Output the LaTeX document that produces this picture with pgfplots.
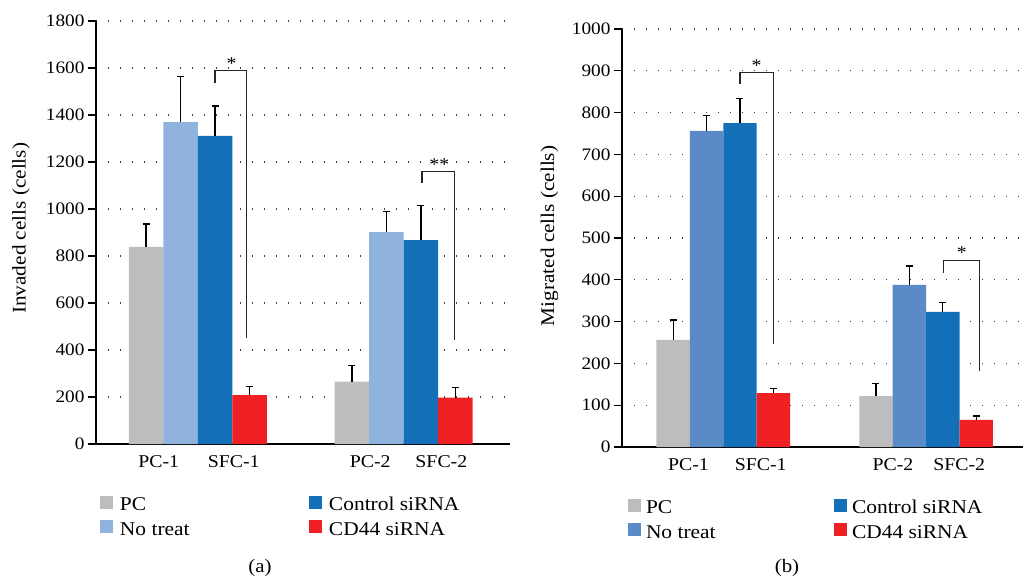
\documentclass[border=0pt]{standalone}
\usepackage{pgfplots}
\pgfplotsset{compat=1.18}
\usepackage{pgfplotstable}
\usepackage{fontspec}
\setmainfont[FakeStretch=1.1]{Liberation Serif}
\definecolor{cgray}{HTML}{BDBDBD}
\definecolor{clight}{HTML}{8FB3DD}
\definecolor{cmed}{HTML}{5A8BC7}
\definecolor{cblue}{HTML}{1370B8}
\definecolor{cred}{HTML}{EE2024}

% left panel (a): x, value, plus-error
\pgfplotstableread{
x y e
1.45 839 97
7.42 265 70
}\aPC
\pgfplotstableread{
x y e
2.45 1370 193
8.42 902 86
}\aNT
\pgfplotstableread{
x y e
3.45 1311 127
9.42 868 146
}\aCS
\pgfplotstableread{
x y e
4.45 208 36
10.42 197 43
}\aCD
% right panel (b)
\pgfplotstableread{
x y e
1.53 256 48
7.60 122 29
}\bPC
\pgfplotstableread{
x y e
2.53 756 37
8.60 388 45
}\bNT
\pgfplotstableread{
x y e
3.53 775 58
9.60 323 23
}\bCS
\pgfplotstableread{
x y e
4.53 129 11
10.60 65 9
}\bCD

\pgfplotsset{
 panel/.style={
  scale only axis,
  axis x line=bottom, axis y line=left,
  axis line style={-, line width=1.2pt, black},
  xmin=0, xmax=12, ymin=0,
  tick align=outside,
  major tick length=8pt,
  ytick style={line width=1.2pt, black},
  xtick style={draw=none},
  ymajorgrids,
  major grid style={dash pattern=on 1.3pt off 10.7pt, line width=1.3pt, black!75},
  /pgf/number format/assume math mode=true,
  /pgf/number format/1000 sep={},
  yticklabel style={font=\fontsize{17.5}{20}\selectfont},
  xticklabel style={font=\fontsize{18}{20}\selectfont},
  ylabel style={font=\fontsize{19.3}{21}\selectfont, anchor=center},
  legend cell align=left,
 },
 errb/.style={error bars/.cd, y dir=plus, y explicit,
   error bar style={line width=1.2pt, black},
   error mark options={black, line width=1.2pt, mark size=3.5pt, rotate=90}},
}

\begin{document}
\begin{tikzpicture}
\useasboundingbox (0pt,0pt) rectangle (1026pt,582pt);

% ---------------- panel (a)
\begin{axis}[panel,
  at={(96pt,138pt)}, anchor=south west,
  width=414pt, height=423pt,
  ymax=1800, ytick={0,200,...,1800},
  xtick={1.82,3.99,7.95,10.01},
  xticklabels={PC-1,SFC-1,PC-2,SFC-2},
  ylabel={Invaded cells (cells)},
  ylabel style={at={(axis description cs:-0.181,0.51)}},
  legend image code/.code={\fill[#1] (0pt,-5pt) rectangle (13pt,8pt); \path (20pt,0pt);},
  legend style={at={(axis description cs:0,0)}, anchor=north west, xshift=4pt, yshift=-51.4pt,
    draw=none, fill=none, legend columns=2, transpose legend, inner sep=0pt, outer sep=0pt,
    nodes={inner sep=0pt}, row sep=7.5pt, column sep=0pt,
    font=\fontsize{19.5}{22}\selectfont},
]
\addplot[ybar, bar width=34.5pt, bar shift=0pt, fill=cgray, draw=none, errb] table[x=x,y=y,y error=e] {\aPC};
\addlegendentry{\makebox[189pt][l]{\strut PC}}
\addplot[ybar, bar width=34.5pt, bar shift=0pt, fill=clight, draw=none, errb] table[x=x,y=y,y error=e] {\aNT};
\addlegendentry{\makebox[189pt][l]{\strut No treat}}
\addplot[ybar, bar width=34.5pt, bar shift=0pt, fill=cblue, draw=none, errb] table[x=x,y=y,y error=e] {\aCS};
\addlegendentry{\strut Control siRNA}
\addplot[ybar, bar width=34.5pt, bar shift=0pt, fill=cred, draw=none, errb] table[x=x,y=y,y error=e] {\aCD};
\addlegendentry{\strut CD44 siRNA}
% significance brackets
\draw[line width=1.2pt, black!85] (axis cs:3.45,1536) -- (axis cs:3.45,1588) -- (axis cs:4.37,1588) -- (axis cs:4.37,452);
\node[anchor=south, font=\fontsize{18}{20}\selectfont, inner sep=1pt] at (axis cs:3.93,1588) {*};
\draw[line width=1.2pt, black!85] (axis cs:9.45,1111) -- (axis cs:9.45,1160) -- (axis cs:10.4,1160) -- (axis cs:10.4,443);
\node[anchor=south, font=\fontsize{18}{20}\selectfont, inner sep=1pt] at (axis cs:9.95,1160) {**};
\end{axis}

% ---------------- panel (b)
\begin{axis}[panel,
  at={(622pt,135pt)}, anchor=south west,
  width=401pt, height=418pt,
  ymax=1000, ytick={0,100,...,1000},
  xtick={1.99,4.15,8.11,10.09},
  xticklabels={PC-1,SFC-1,PC-2,SFC-2},
  ylabel={Migrated cells (cells)},
  ylabel style={at={(axis description cs:-0.181,0.505)}},
  legend image code/.code={\fill[#1] (0pt,-5pt) rectangle (13pt,8pt); \path (18pt,0pt);},
  legend style={at={(axis description cs:0,0)}, anchor=north west, xshift=6pt, yshift=-51.5pt,
    draw=none, fill=none, legend columns=2, transpose legend, inner sep=0pt, outer sep=0pt,
    nodes={inner sep=0pt}, row sep=7.5pt, column sep=0pt,
    font=\fontsize{19.5}{22}\selectfont},
]
\addplot[ybar, bar width=33.4pt, bar shift=0pt, fill=cgray, draw=none, errb] table[x=x,y=y,y error=e] {\bPC};
\addlegendentry{\makebox[188pt][l]{\strut PC}}
\addplot[ybar, bar width=33.4pt, bar shift=0pt, fill=cmed, draw=none, errb] table[x=x,y=y,y error=e] {\bNT};
\addlegendentry{\makebox[188pt][l]{\strut No treat}}
\addplot[ybar, bar width=33.4pt, bar shift=0pt, fill=cblue, draw=none, errb] table[x=x,y=y,y error=e] {\bCS};
\addlegendentry{\strut Control siRNA}
\addplot[ybar, bar width=33.4pt, bar shift=0pt, fill=cred, draw=none, errb] table[x=x,y=y,y error=e] {\bCD};
\addlegendentry{\strut CD44 siRNA}
\draw[line width=1.2pt, black!85] (axis cs:3.53,868) -- (axis cs:3.53,896) -- (axis cs:4.53,896) -- (axis cs:4.53,246);
\node[anchor=south, font=\fontsize{18}{20}\selectfont, inner sep=1pt] at (axis cs:4.03,896) {*};
\draw[line width=1.2pt, black!85] (axis cs:9.62,417) -- (axis cs:9.62,447) -- (axis cs:10.7,447) -- (axis cs:10.7,182);
\node[anchor=south, font=\fontsize{18}{20}\selectfont, inner sep=1pt] at (axis cs:10.17,447) {*};
\end{axis}

\node[font=\fontsize{19}{22}\selectfont] at (260pt,14pt) {(a)};
\node[font=\fontsize{19}{22}\selectfont] at (787pt,14pt) {(b)};
\end{tikzpicture}
\end{document}
